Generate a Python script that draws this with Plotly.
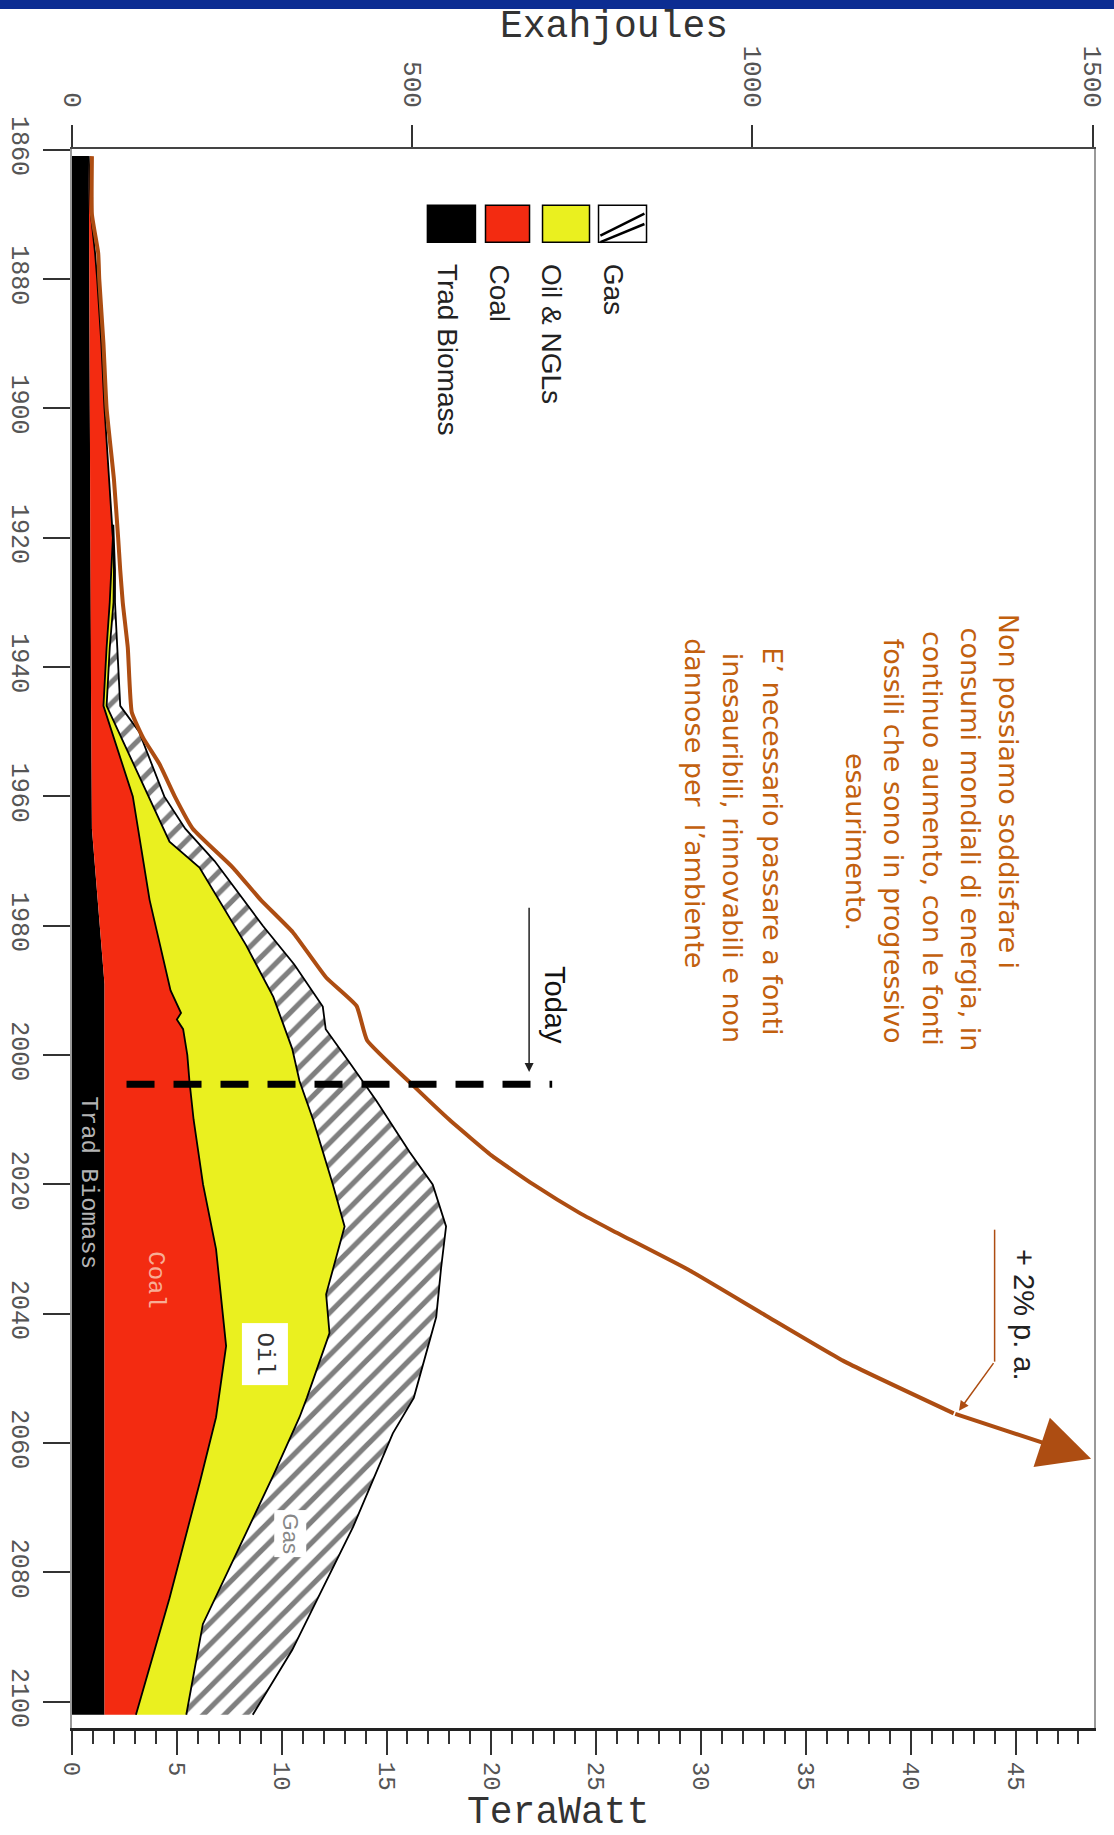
import numpy as np
import plotly.graph_objects as go

# ---------------- data (TeraWatt, cumulative edges) -------------
BIO_YEARS = [1861, 1900, 1940, 1965, 1979, 1989, 2102]
BIO_EDGE = [0.8, 0.85, 0.9, 0.95, 1.3, 1.55, 1.55]

COAL_YEARS = [1861, 1870, 1876, 1880, 1890, 1900, 1910, 1920, 1930, 1937, 1946, 1953, 1960,
              1968, 1976, 1983, 1990, 1993.5, 1994.5, 1996, 2000, 2004, 2010, 2020, 2030,
              2045, 2056, 2066, 2076, 2084, 2102]
COAL_EDGE = [0.8, 0.9, 1.1, 1.2, 1.4, 1.55, 1.75, 1.95, 1.8, 1.65, 1.5, 2.2, 2.9,
             3.3, 3.7, 4.2, 4.7, 5.2, 5.0, 5.3, 5.5, 5.6, 5.8, 6.25, 6.87,
             7.35, 6.87, 6.1, 5.3, 4.65, 3.05]

OIL_YEARS = [1918, 1925, 1930, 1937, 1946, 1967, 1971, 1983, 1991, 1999, 2004, 2010,
             2020, 2026.5, 2037, 2043, 2053, 2056, 2065, 2078, 2088, 2102]
OIL_EDGE = [1.93, 2.0, 1.98, 1.8, 1.65, 4.65, 6.08, 8.3, 9.6, 10.5, 10.85, 11.5,
            12.44, 13.0, 12.12, 12.28, 11.2, 10.85, 9.6, 7.7, 6.24, 5.45]

GAS_YEARS = [1918, 1925, 1930, 1937, 1946, 1950, 1960, 1965, 1970, 1980, 1986, 1992.5,
             1996, 2001, 2007, 2015, 2020, 2026.5, 2033, 2040.5, 2046, 2053, 2058.5,
             2073, 2092, 2102]
GAS_EDGE = [1.97, 2.05, 2.05, 2.15, 2.3, 3.2, 4.4, 5.4, 6.8, 9.1, 10.6, 11.96,
            12.1, 13.2, 14.5, 16.1, 17.2, 17.84, 17.6, 17.37, 16.9, 16.3, 15.3,
            13.4, 10.5, 8.62]

TOTAL_YEARS = [1861, 1870, 1876, 1880, 1890, 1900, 1911, 1920, 1925, 1930, 1937, 1947,
               1951, 1955, 1960, 1965, 1971, 1976, 1981, 1988, 1992.4, 1997.7, 2004.8,
               2010, 2015.5, 2020, 2024.4, 2027, 2033.2, 2040.3, 2047.4, 2055.4, 2062.4]
TOTAL_TW = [0.95, 0.95, 1.25, 1.3, 1.5, 1.65, 2.0, 2.2, 2.3, 2.42, 2.66, 2.85,
            3.4, 4.17, 4.9, 5.76, 7.67, 9.0, 10.53, 12.12, 13.57, 14.07, 16.3,
            18.0, 20.0, 22.0, 24.2, 25.7, 29.4, 33.1, 36.85, 42.05, 48.6]

TODAY = 2004.5
YEAR_TICKS = list(range(1860, 2101, 20))
TW_TICKS = list(range(0, 46, 5))
EJ_TICKS = [0, 500, 1000, 1500]

COL_COAL = "#F32B11"
COL_OIL = "#EAF01F"
COL_LINE = "#AD4D12"
COL_TEXT = "#C2600E"
MONO = "Liberation Mono, Courier New, monospace"
SANS = "Liberation Sans, Arial, sans-serif"


def band(outer_y, outer_x, inner_y, inner_x):
    oy = np.asarray(outer_y, float)
    ox = np.asarray(outer_x, float)
    iy = np.asarray(inner_y, float)
    ix = np.asarray(inner_x, float)
    y0, y1 = oy[0], oy[-1]
    m = (iy > y0) & (iy < y1)
    py = list(oy) + [y1] + list(iy[m][::-1]) + [y0]
    px = list(ox) + [np.interp(y1, iy, ix)] + list(ix[m][::-1]) + [np.interp(y0, iy, ix)]
    return px, py


fig = go.Figure()

# traditional biomass
fig.add_trace(go.Scatter(x=[0] + BIO_EDGE + [0], y=[BIO_YEARS[0]] + BIO_YEARS + [BIO_YEARS[-1]],
                         fill="toself", fillcolor="black", mode="lines",
                         line=dict(width=0, color="black"), hoverinfo="skip", showlegend=False))
# coal
px, py = band(COAL_YEARS, COAL_EDGE, BIO_YEARS, BIO_EDGE)
fig.add_trace(go.Scatter(x=px, y=py, fill="toself", fillcolor=COL_COAL, mode="lines",
                         line=dict(width=0), hoverinfo="skip", showlegend=False))
# oil
px, py = band(OIL_YEARS, OIL_EDGE, COAL_YEARS, COAL_EDGE)
fig.add_trace(go.Scatter(x=px, y=py, fill="toself", fillcolor=COL_OIL, mode="lines",
                         line=dict(width=0), hoverinfo="skip", showlegend=False))
# gas (hatched)
px, py = band(GAS_YEARS, GAS_EDGE, OIL_YEARS, OIL_EDGE)
fig.add_trace(go.Scatter(x=px, y=py, fill="toself", fillcolor="white", mode="lines",
                         fillpattern=dict(shape="/", fgcolor="black", bgcolor="white",
                                          size=15, solidity=0.35),
                         line=dict(width=0), hoverinfo="skip", showlegend=False))

# black outlines
for ys, xs in [(COAL_YEARS, COAL_EDGE), (OIL_YEARS, OIL_EDGE), (GAS_YEARS, GAS_EDGE)]:
    fig.add_trace(go.Scatter(x=xs, y=ys, mode="lines", line=dict(color="black", width=1.8),
                             hoverinfo="skip", showlegend=False))

# total demand line
fig.add_trace(go.Scatter(x=TOTAL_TW[:-1], y=TOTAL_YEARS[:-1], mode="lines",
                         line=dict(color=COL_LINE, width=4, shape="spline", smoothing=0.4),
                         hoverinfo="skip", showlegend=False))

# today dashed line
fig.add_trace(go.Scatter(x=[2.6, 22.9], y=[TODAY, TODAY], mode="lines",
                         line=dict(color="black", width=7, dash="28px,19px"),
                         hoverinfo="skip", showlegend=False))

# invisible trace for top axis
fig.add_trace(go.Scatter(x=[0, 1500], y=[1860, 1860], xaxis="x2", mode="markers",
                         marker=dict(opacity=0), hoverinfo="skip", showlegend=False))

ann = []
# arrow head of total line
ann.append(dict(x=TOTAL_TW[-1], y=TOTAL_YEARS[-1], ax=TOTAL_TW[-2], ay=TOTAL_YEARS[-2],
                xref="x", yref="y", axref="x", ayref="y", text="", showarrow=True,
                arrowhead=2, arrowsize=2.6, arrowwidth=4, arrowcolor=COL_LINE))
# "+2% p.a." leader
fig.add_trace(go.Scatter(x=[44.0, 44.0], y=[2027, 2047.4], mode="lines",
                         line=dict(color=COL_LINE, width=1.5), hoverinfo="skip", showlegend=False))
ann.append(dict(x=42.3, y=2055, ax=44.0, ay=2047.4, xref="x", yref="y", axref="x", ayref="y",
                text="", showarrow=True, arrowhead=2, arrowsize=1.3, arrowwidth=1.5,
                arrowcolor=COL_LINE))
ann.append(dict(x=45.4, y=2040.2, xref="x", yref="y", text="+ 2% p. a.", showarrow=False,
                textangle=90, font=dict(family=SANS, size=29, color="#222")))
# Today arrow
ann.append(dict(x=21.8, y=2002.6, ax=21.8, ay=1977.0, xref="x", yref="y", axref="x", ayref="y",
                text="", showarrow=True, arrowhead=2, arrowsize=1.2, arrowwidth=1.5,
                arrowcolor="#222"))
ann.append(dict(x=23.0, y=1992.3, xref="x", yref="y", text="Today", showarrow=False,
                textangle=90, font=dict(family=SANS, size=29, color="#111")))

# in-chart labels
ann.append(dict(x=0.77, y=2019.7, xref="x", yref="y", text="Trad Biomass", showarrow=False,
                textangle=90, font=dict(family=MONO, size=24, color="#b4b4b4")))
ann.append(dict(x=4.0, y=2034.8, xref="x", yref="y", text="Coal", showarrow=False,
                textangle=90, font=dict(family=MONO, size=24, color="#F8AD95")))
ann.append(dict(x=9.2, y=2046.3, xref="x", yref="y", text="Oil", showarrow=False,
                textangle=90, bgcolor="white", borderpad=9,
                font=dict(family=MONO, size=24, color="#333")))
ann.append(dict(x=10.4, y=2074, xref="x", yref="y", text="Gas", showarrow=False,
                textangle=90, bgcolor="white", borderpad=3,
                font=dict(family=SANS, size=22, color="#888")))

# Italian texts
block = [
    ("Non possiamo soddisfare i", 44.66, 1959.2),
    ("consumi mondiali di energia, in", 42.85, 1966.6),
    ("continuo aumento, con le fonti", 41.04, 1966.5),
    ("fossili che sono in progressivo", 39.22, 1966.9),
    ("esaurimento.", 37.36, 1967.1),
    ("E\u2019 necessario passare a fonti", 33.4, 1967.0),
    ("inesauribili, rinnovabili e non", 31.54, 1968.0),
    ("dannose per  l\u2019ambiente", 29.68, 1961.1),
]
for t, xx, yy in block:
    ann.append(dict(x=xx, y=yy, xref="x", yref="y", text=t, showarrow=False, textangle=90,
                    font=dict(family="DejaVu Sans", size=27, color=COL_TEXT)))

# legend
leg = [("Trad Biomass", "black", 16.95, 19.24, 17.9),
       ("Coal", COL_COAL, 19.72, 21.82, 20.4),
       ("Oil & NGLs", COL_OIL, 22.44, 24.68, 22.9),
       ("Gas", "white", 25.11, 27.40, 25.8)]
shapes = []
for name, col, x0, x1, xc in leg:
    shapes.append(dict(type="rect", xref="x", yref="y", x0=x0, x1=x1, y0=1868.6, y1=1874.3,
                       fillcolor=col, line=dict(color="black", width=1.5)))
    ann.append(dict(x=xc, y=1877.4, xref="x", yref="y", text=name, showarrow=False,
                    textangle=90, xanchor="center", yanchor="top",
                    font=dict(family=SANS, size=28, color="#222")))
# hatch lines for gas legend box
for a, b in [((25.2, 1873.3), (27.3, 1869.9)), ((25.2, 1874.3), (27.3, 1871.5))]:
    shapes.append(dict(type="line", xref="x", yref="y", x0=a[0], y0=a[1], x1=b[0], y1=b[1],
                       line=dict(color="black", width=2.5)))

# top blue bar
shapes.append(dict(type="rect", xref="paper", yref="paper", x0=-0.1, x1=1.1,
                   y0=(1728 - 9) / 1579, y1=1.2, fillcolor="#0C2D92", line=dict(width=0)))

# axis titles
ann.append(dict(x=0.53, y=(1728 - 27) / 1579, xref="paper", yref="paper", text="Exahjoules",
                showarrow=False, xanchor="center", yanchor="middle",
                font=dict(family=MONO, size=38, color="#333")))
ann.append(dict(x=0.4755, y=(1728 - 1812) / 1579, xref="paper", yref="paper", text="TeraWatt",
                showarrow=False, xanchor="center", yanchor="middle",
                font=dict(family=MONO, size=38, color="#333")))

fig.update_layout(
    width=1114, height=1835,
    margin=dict(l=72, r=20, t=149, b=107, autoexpand=False),
    paper_bgcolor="white", plot_bgcolor="white",
    showlegend=False,
    annotations=ann, shapes=shapes,
    xaxis=dict(range=[0, 48.74], tickvals=TW_TICKS, tickangle=90, ticks="outside",
               ticklen=24, tickwidth=1.5, tickcolor="#333", automargin=False,
               ticklabelstandoff=2,
               minor=dict(dtick=1, ticks="outside", ticklen=13, tickcolor="#333", tickwidth=1.5),
               showline=True, linecolor="#222", linewidth=3, showgrid=False, zeroline=False,
               tickfont=dict(family=MONO, size=24, color="#555")),
    xaxis2=dict(overlaying="x", side="top", range=[0, 1502], tickvals=EJ_TICKS, tickangle=90,
                ticks="outside", ticklen=22, tickwidth=1.5, tickcolor="#333", automargin=False,
                ticklabelstandoff=8,
                showline=True, linecolor="#444", linewidth=2, showgrid=False, zeroline=False,
                tickfont=dict(family=MONO, size=26, color="#555")),
    yaxis=dict(range=[2104.05, 1859.9], tickvals=YEAR_TICKS, tickangle=90, ticks="outside",
               ticklen=27, tickwidth=1.5, tickcolor="#333", ticklabelstandoff=1,
               showline=True, linecolor="#999", linewidth=2, mirror=True, automargin=False,
               showgrid=False, zeroline=False,
               tickfont=dict(family=MONO, size=25, color="#555")),
)

fig.write_html("out.html", config={"displayModeBar": False},
               post_script="document.body.style.margin='0px';")
